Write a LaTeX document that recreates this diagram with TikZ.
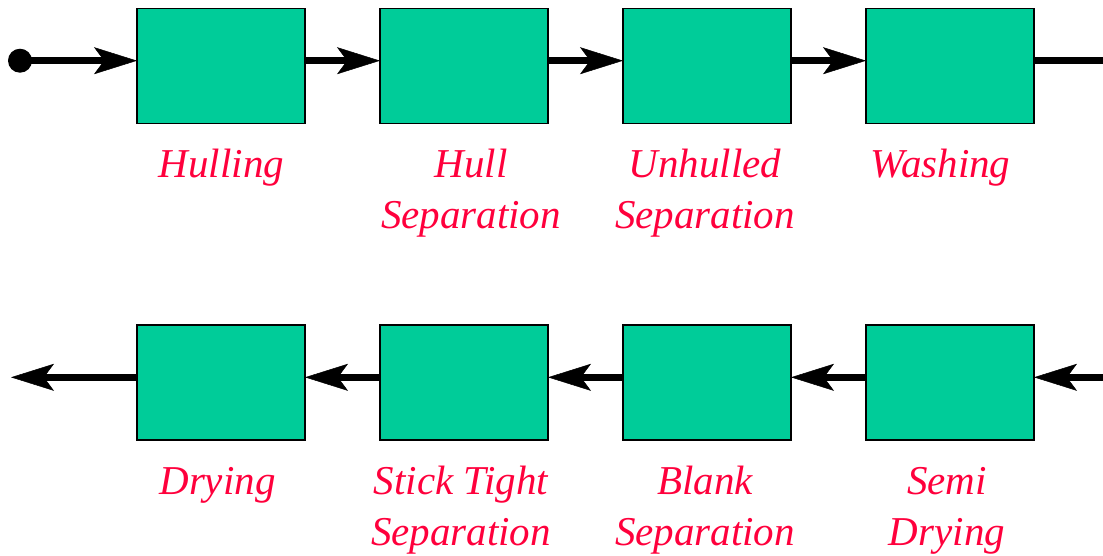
\documentclass[tikz,border=0pt]{standalone}
\usepackage{fontspec}
\setmainfont{Liberation Serif}
\usetikzlibrary{arrows.meta}
\definecolor{boxgreen}{RGB}{0,204,153}
\definecolor{labelred}{RGB}{255,0,60}
\begin{document}
\begin{tikzpicture}[x=1pt,y=-1pt,
  stepbox/.style={draw=black,line width=1.5pt,fill=boxgreen,minimum width=168pt,minimum height=115pt,inner sep=0pt,outer sep=0pt},
  lbl/.style={text=labelred,font=\fontsize{41}{51}\selectfont\itshape,align=center,inner sep=0pt,anchor=base},
  flow/.style={line width=7pt,-{Stealth[length=43pt,width=27pt,inset=10pt,line width=0.5pt]}},
  plain/.style={line width=7pt}]
\useasboundingbox (0,0) rectangle (1103,555);
% top row
\node[stepbox] (b1) at (221,65.8) {};
\node[stepbox] (b2) at (464,65.8) {};
\node[stepbox] (b3) at (707,65.8) {};
\node[stepbox] (b4) at (950,65.8) {};
% bottom row
\node[stepbox] (b5) at (221,382.5) {};
\node[stepbox] (b6) at (464,382.5) {};
\node[stepbox] (b7) at (707,382.5) {};
\node[stepbox] (b8) at (950,382.5) {};
% line coordinates
\coordinate (s) at (20,60.7);
\coordinate (te) at (1103,60.7);
\coordinate (bs) at (1103,377.3);
\coordinate (be) at (11,377.3);
\fill (s) circle (12pt);
\draw[flow] (s) -- (b1.west |- s);
\draw[flow] (b1.east |- s) -- (b2.west |- s);
\draw[flow] (b2.east |- s) -- (b3.west |- s);
\draw[flow] (b3.east |- s) -- (b4.west |- s);
\draw[plain] (b4.east |- s) -- (te);
\draw[flow] (bs) -- (b8.east |- bs);
\draw[flow] (b8.west |- bs) -- (b7.east |- bs);
\draw[flow] (b7.west |- bs) -- (b6.east |- bs);
\draw[flow] (b6.west |- bs) -- (b5.east |- bs);
\draw[flow] (b5.west |- bs) -- (be);
% labels (base anchor = baseline of the last line)
\node[lbl] (l1) at (221.5,177) {Hulling};
\node[lbl] (l2) at (471,228) {Hull\\Separation};
\node[lbl] (l3) at (705,228) {Unhulled\\Separation};
\node[lbl] (l4) at (940.5,177) {Washing};
\node[lbl] (l5) at (217.5,494) {Drying};
\node[lbl] (l6) at (461,545) {Stick Tight\\Separation};
\node[lbl] (l7) at (705,545) {Blank\\Separation};
\node[lbl] (l8) at (947,545) {Semi\\Drying};
\end{tikzpicture}
\end{document}
